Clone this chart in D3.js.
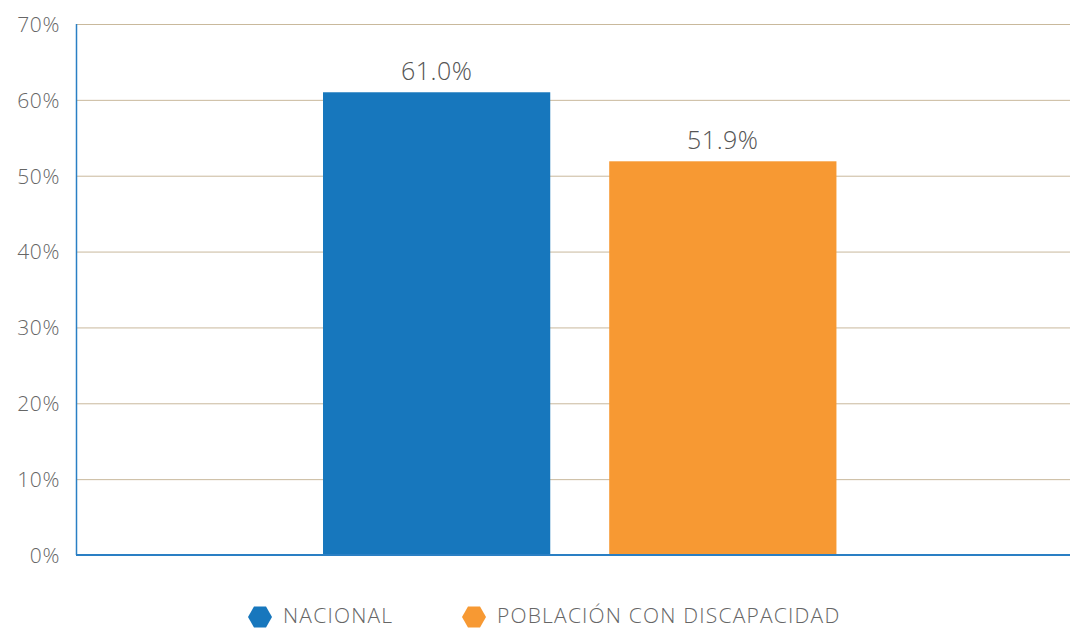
<!DOCTYPE html>
<html>
<head>
<meta charset="utf-8">
<script src="https://cdn.jsdelivr.net/npm/d3@7/dist/d3.min.js"></script>
<style>
  body { margin: 0; background: #fff; }
  svg text { font-family: "Open Sans", Lato, sans-serif; font-weight: 300; }
</style>
</head>
<body>
<div id="chart"></div>
<script>
// data
const groups = ['Total'];
const series = ['NACIONAL', 'POBLACIÓN CON DISCAPACIDAD'];
const values = [61.0, 51.9];
const colors = ['#1777bd', '#f79933'];
const yTicks = [0, 10, 20, 30, 40, 50, 60, 70];

const W = 1070, H = 628;
const margin = { top: 24, right: 0, bottom: 73, left: 76 };
const width = W - margin.left - margin.right;
const height = H - margin.top - margin.bottom;

const svg = d3.select('#chart').append('svg')
  .attr('width', W)
  .attr('height', H);

const g = svg.append('g')
  .attr('transform', `translate(${margin.left},${margin.top})`);

const y = d3.scaleLinear().domain([0, 70]).range([height, 0]);

const x0 = d3.scaleBand()
  .domain(groups)
  .range([0, width])
  .paddingInner(0)
  .paddingOuter(0.468)
  .align(0.514);

const x1 = d3.scaleBand()
  .domain(series)
  .range([0, x0.bandwidth()])
  .paddingInner(0.206);

// gridlines
g.append('g')
  .selectAll('line')
  .data(yTicks.filter(d => d > 0))
  .join('line')
  .attr('x1', 0)
  .attr('x2', width)
  .attr('y1', d => y(d) + 0.5)
  .attr('y2', d => y(d) + 0.5)
  .attr('stroke', '#c9b99c')
  .attr('stroke-width', 1);

// y axis labels
const yAxis = d3.axisLeft(y)
  .tickValues(yTicks)
  .tickFormat(d => d + '%')
  .tickSize(0)
  .tickPadding(16);

g.append('g')
  .call(yAxis)
  .call(s => s.select('.domain').remove())
  .selectAll('text')
  .attr('fill', '#666')
  .attr('font-size', 21)
  .attr('letter-spacing', 0.6)
  .attr('dy', '0.35em');

// bars
const grp = g.append('g')
  .attr('transform', `translate(${x0('Total')},0)`);

grp.selectAll('rect')
  .data(series)
  .join('rect')
  .attr('x', d => x1(d))
  .attr('width', x1.bandwidth())
  .attr('y', (d, i) => y(values[i]))
  .attr('height', (d, i) => height - y(values[i]))
  .attr('fill', (d, i) => colors[i]);

grp.selectAll('text.val')
  .data(series)
  .join('text')
  .attr('class', 'val')
  .attr('x', d => x1(d) + x1.bandwidth() / 2)
  .attr('y', (d, i) => y(values[i]) - 12)
  .attr('text-anchor', 'middle')
  .attr('fill', '#555')
  .attr('font-size', 25)
  .attr('letter-spacing', 0.5)
  .text((d, i) => values[i].toFixed(1) + '%');

// axis lines
g.append('line')
  .attr('x1', 0.5).attr('x2', 0.5)
  .attr('y1', 0).attr('y2', height)
  .attr('stroke', '#2a7fc4').attr('stroke-width', 1.5);

g.append('line')
  .attr('x1', 0).attr('x2', width)
  .attr('y1', height).attr('y2', height)
  .attr('stroke', '#2a7fc4').attr('stroke-width', 2);

// legend
const hex = (cx, cy, w, h) => {
  const q = w / 4;
  return [
    [cx - w / 2, cy], [cx - q, cy - h / 2], [cx + q, cy - h / 2],
    [cx + w / 2, cy], [cx + q, cy + h / 2], [cx - q, cy + h / 2],
  ].map(p => p.join(',')).join(' ');
};

const legendX = [260, 474];
const legend = svg.append('g')
  .selectAll('g')
  .data(series)
  .join('g');

legend.append('polygon')
  .attr('points', (d, i) => hex(legendX[i], 617, 24, 21))
  .attr('fill', (d, i) => colors[i]);

legend.append('text')
  .attr('x', (d, i) => legendX[i] + 23)
  .attr('y', 616)
  .attr('dy', '0.35em')
  .attr('fill', '#666')
  .attr('font-size', 21)
  .attr('letter-spacing', 1.2)
  .text(d => d);
</script>
</body>
</html>
